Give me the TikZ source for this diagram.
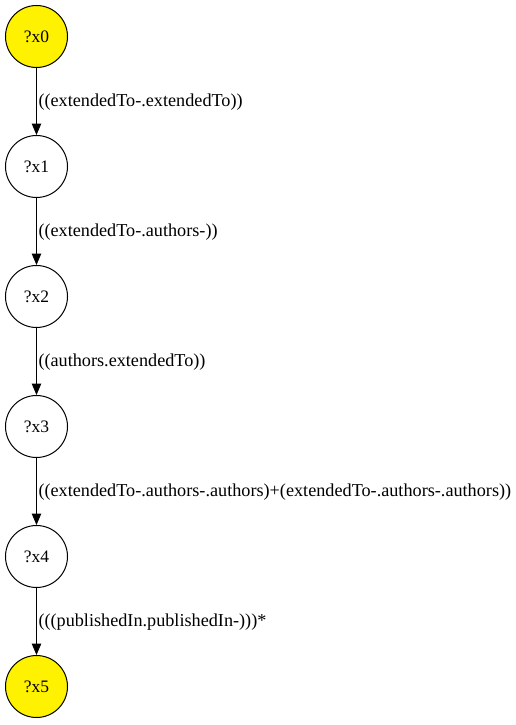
\documentclass[tikz,border=0pt]{standalone}
\usepackage{fontspec}
\setmainfont{Liberation Serif}
\usetikzlibrary{arrows.meta}
\begin{document}
\begin{tikzpicture}[x=1pt,y=-1pt,
  vnode/.style={circle,draw,line width=1pt,minimum size=62pt,inner sep=0pt,font=\fontsize{17.5pt}{20pt}\selectfont},
  goal/.style={vnode,fill=yellow},
  edge/.style={draw,line width=1pt,-{Triangle[length=11.5pt,width=9.5pt]}},
  elabel/.style={anchor=west,inner sep=0pt,font=\fontsize{18.2pt}{20pt}\selectfont}]
\useasboundingbox (0,0) rectangle (515,725);
\node[goal]  (x0) at (36.5,36.5)  {?x0};
\node[vnode] (x1) at (36.5,166.5) {?x1};
\node[vnode] (x2) at (36.5,296.5) {?x2};
\node[vnode] (x3) at (36.5,426.5) {?x3};
\node[vnode] (x4) at (36.5,556.5) {?x4};
\node[goal]  (x5) at (36.5,686.5) {?x5};
\draw[edge] (x0) -- node[elabel,at start,xshift=1.5pt,yshift=-34pt] {((extendedTo-.extendedTo))} (x1);
\draw[edge] (x1) -- node[elabel,at start,xshift=1.5pt,yshift=-34pt] {((extendedTo-.authors-))} (x2);
\draw[edge] (x2) -- node[elabel,at start,xshift=1.5pt,yshift=-34pt] {((authors.extendedTo))} (x3);
\draw[edge] (x3) -- node[elabel,at start,xshift=1.5pt,yshift=-34pt] {((extendedTo-.authors-.authors)+(extendedTo-.authors-.authors))} (x4);
\draw[edge] (x4) -- node[elabel,at start,xshift=1.5pt,yshift=-34pt] {(((publishedIn.publishedIn-)))*} (x5);
\end{tikzpicture}
\end{document}
